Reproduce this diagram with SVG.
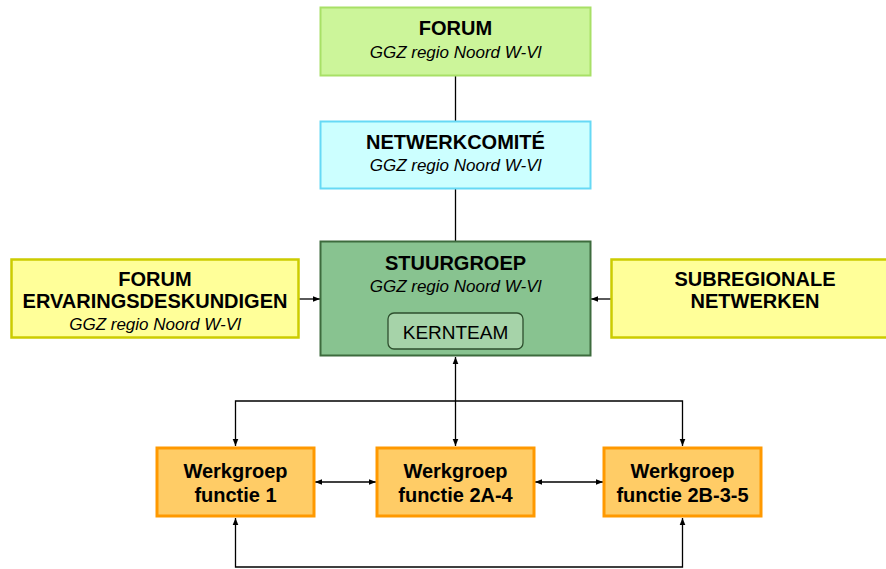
<svg xmlns="http://www.w3.org/2000/svg" width="886" height="569" viewBox="0 0 886 569">
<style>
text{font-family:"Liberation Sans",Arial,sans-serif;text-anchor:middle;fill:#000}
.t{font-weight:bold;font-size:20px}
.s{font-style:italic;font-size:17px}
.k{font-size:19px}
.c{stroke:#000;stroke-width:1.3;fill:none}
</style>
<defs>
<marker id="a" viewBox="0 0 10 10" refX="10" refY="5" markerWidth="7" markerHeight="7" orient="auto-start-reverse" markerUnits="userSpaceOnUse">
<path d="M0,1 L10,5 L0,9 z" fill="#000"/>
</marker>
</defs>
<g id="connectors">
<line class="c" x1="455.5" y1="76" x2="455.5" y2="121"/>
<line class="c" x1="455.5" y1="189" x2="455.5" y2="241"/>
<line class="c" x1="299" y1="299" x2="320" y2="299" marker-end="url(#a)"/>
<line class="c" x1="611" y1="299" x2="591" y2="299" marker-end="url(#a)"/>
<line class="c" x1="455.5" y1="357" x2="455.5" y2="446" marker-start="url(#a)" marker-end="url(#a)"/>
<path class="c" d="M235.5,446 V401 H682.5 V446" marker-start="url(#a)" marker-end="url(#a)"/>
<path class="c" d="M235.5,518 V567 H682.5 V518" marker-start="url(#a)" marker-end="url(#a)"/>
<line class="c" x1="315" y1="482" x2="376" y2="482" marker-start="url(#a)" marker-end="url(#a)"/>
<line class="c" x1="535" y1="482" x2="603" y2="482" marker-start="url(#a)" marker-end="url(#a)"/>
</g>
<g id="forum">
<rect x="320.5" y="7.5" width="270" height="68" fill="#ccf59a" stroke="#a8e066" stroke-width="2"/>
<text class="t" x="455.5" y="35">FORUM</text>
<text class="s" x="455.5" y="58">GGZ regio Noord W-Vl</text>
</g>
<g id="netwerkcomite">
<rect x="320.5" y="121.5" width="270" height="67" fill="#ccffff" stroke="#66d9f5" stroke-width="2"/>
<text class="t" x="455.5" y="149">NETWERKCOMITÉ</text>
<text class="s" x="455.5" y="171">GGZ regio Noord W-Vl</text>
</g>
<g id="stuurgroep">
<rect x="320.5" y="241.5" width="270" height="114" fill="#88c390" stroke="#3d6b3d" stroke-width="2"/>
<text class="t" x="455.5" y="270">STUURGROEP</text>
<text class="s" x="455.5" y="292">GGZ regio Noord W-Vl</text>
<g id="kernteam">
<rect x="388" y="313" width="135" height="36" rx="6" fill="#a6d3a9" stroke="#2e4f2e" stroke-width="1.3"/>
<text class="k" x="455.5" y="339">KERNTEAM</text>
</g>
</g>
<g id="forum-ervaringsdeskundigen">
<rect x="11.5" y="259.5" width="287" height="78" fill="#ffff99" stroke="#cccc00" stroke-width="2.5"/>
<text class="t" x="155" y="286">FORUM</text>
<text class="t" x="155" y="308">ERVARINGSDESKUNDIGEN</text>
<text class="s" x="155" y="330">GGZ regio Noord W-Vl</text>
</g>
<g id="subregionale-netwerken">
<rect x="611.5" y="259.5" width="287" height="78" fill="#ffff99" stroke="#cccc00" stroke-width="2.5"/>
<text class="t" x="755" y="286">SUBREGIONALE</text>
<text class="t" x="755" y="308">NETWERKEN</text>
</g>
<g id="werkgroep1">
<rect x="157" y="448" width="157" height="68" fill="#ffcc66" stroke="#ff9900" stroke-width="3"/>
<text class="t" x="235.5" y="478">Werkgroep</text>
<text class="t" x="235.5" y="502">functie 1</text>
</g>
<g id="werkgroep2a4">
<rect x="377" y="448" width="157" height="68" fill="#ffcc66" stroke="#ff9900" stroke-width="3"/>
<text class="t" x="455.5" y="478">Werkgroep</text>
<text class="t" x="455.5" y="502">functie 2A-4</text>
</g>
<g id="werkgroep2b35">
<rect x="604" y="448" width="157" height="68" fill="#ffcc66" stroke="#ff9900" stroke-width="3"/>
<text class="t" x="682.5" y="478">Werkgroep</text>
<text class="t" x="682.5" y="502">functie 2B-3-5</text>
</g>
</svg>
